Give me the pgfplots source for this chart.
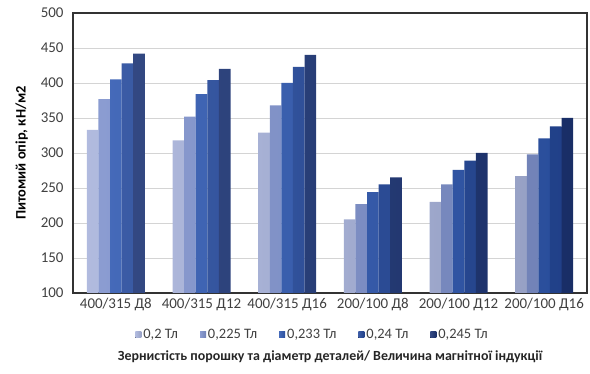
\documentclass[border=0pt]{standalone}
\usepackage{pgfplots}
\pgfplotsset{compat=1.18}
\usepackage{fontspec}
\setmainfont{Carlito}

\definecolor{cA}{HTML}{A8B3DB}
\definecolor{cB}{HTML}{7E91CC}
\definecolor{cC}{HTML}{3059B1}
\definecolor{cD}{HTML}{25499B}
\definecolor{cE}{HTML}{1C3474}
\definecolor{gridc}{HTML}{D4D4D4}

% Specific resistance by grain size / part diameter, one column per induction
\pgfplotstableread{
x  a    b    c    d    e
0  333  377  405  428  442
1  318  352  384  404  420
2  329  368  400  423  440
3  205  227  244  255  265
4  230  255  276  289  300
5  267  298  321  338  350
}\datatab

\begin{document}
\begin{tikzpicture}
\begin{axis}[
  at={(73bp,81bp)}, anchor=south west,
  scale only axis, width=514bp, height=280bp,
  ybar=0pt, bar width=11.6bp,
  xmin=-0.5, xmax=5.5, ymin=100, ymax=500,
  ytick={100,150,...,500},
  xtick={0,...,5},
  xticklabels={400/315 Д8,400/315 Д12,400/315 Д16,200/100 Д8,200/100 Д12,200/100 Д16},
  major tick length=0pt,
  ymajorgrids, grid style={gridc, line width=0.8pt},
  axis line style={black!80, line width=1.1pt},
  /pgf/number format/assume math mode=true,
  tick label style={font=\fontsize{15}{17}\selectfont, text=black!75},
  xticklabel style={yshift=-2bp},
  yticklabel style={xshift=-6bp},
  ylabel={\textbf{Питомий опір, кН/м2}},
  ylabel style={at={(axis description cs:-0.1,0.5)}, anchor=center, font=\fontsize{14.5}{16}\selectfont},
  xlabel={Зернистість порошку та діаметр деталей/ Величина магнітної індукції},
  xlabel style={at={(axis description cs:0.5,-0.229)}, anchor=center, font=\fontsize{14}{16}\selectfont\bfseries, text=black!85},
  legend columns=5,
  legend style={at={(axis description cs:0.466,-0.15)}, anchor=center, draw=none, fill=none,
    font=\fontsize{14.5}{16}\selectfont, text=black!75,
    /tikz/every even column/.append style={column sep=20bp}},
  legend image code/.code={\fill[#1] (0bp,-3bp) rectangle (6bp,3bp);},
]
\addplot[draw=none, left color=cA!90!white, middle color=cA, right color=cA!90!black] table[x=x,y=a]{\datatab};
\addplot[draw=none, left color=cB!90!white, middle color=cB, right color=cB!90!black] table[x=x,y=b]{\datatab};
\addplot[draw=none, left color=cC!90!white, middle color=cC, right color=cC!88!black] table[x=x,y=c]{\datatab};
\addplot[draw=none, left color=cD!90!white, middle color=cD, right color=cD!88!black] table[x=x,y=d]{\datatab};
\addplot[draw=none, left color=cE!90!white, middle color=cE, right color=cE!88!black] table[x=x,y=e]{\datatab};
\legend{{0,2 Тл},{0,225 Тл},{0,233 Тл},{0,24 Тл},{0,245 Тл}}
\end{axis}
\path[use as bounding box] (0bp,0bp) rectangle (590bp,374bp);
\end{tikzpicture}
\end{document}
